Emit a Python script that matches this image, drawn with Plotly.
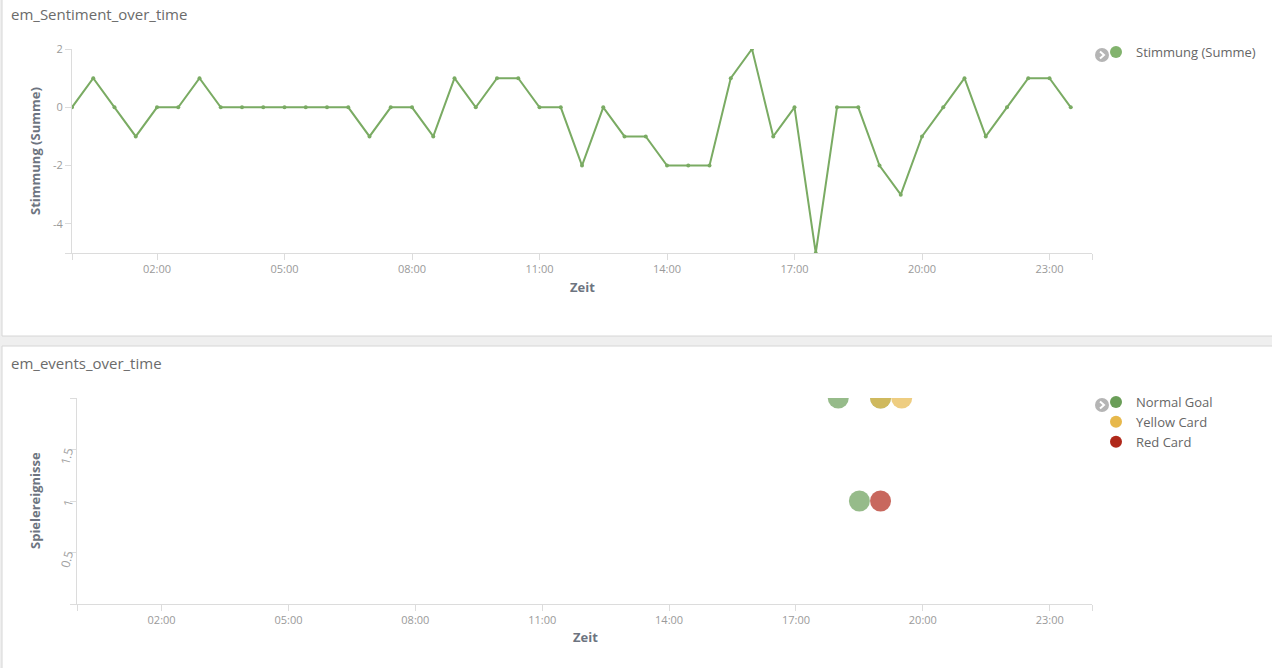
import pandas as pd
import plotly.graph_objects as go

W, H = 1272, 668
DAY = "2016-06-10"

# ---------------- data ----------------
slot_labels = [f"{h:02d}:{m:02d}" for h in range(24) for m in (0, 30)]
sentiment = [0, 1, 0, -1, 0, 0, 1, 0, 0, 0, 0, 0, 0, 0, -1, 0,
             0, -1, 1, 0, 1, 1, 0, 0, -2, 0, -1, -1, -2, -2, -2, 1,
             2, -1, 0, -5, 0, 0, -2, -3, -1, 0, 1, -1, 0, 1, 1, 0]

goal_times = ["18:00", "18:30", "19:00"]
goal_vals = [2, 1, 2]
yellow_times = ["19:00", "19:30"]
yellow_vals = [2, 2]
red_times = ["19:00"]
red_vals = [1]

x_tick_labels = ["02:00", "05:00", "08:00", "11:00", "14:00", "17:00", "20:00", "23:00"]
y1_ticks = [2, 0, -2, -4]
y2_ticks = [0.5, 1, 1.5]
y2_tick_text = ["0.5", "1", "1.5"]


def ts(hm):
    return pd.Timestamp(f"{DAY} {hm}")


def px_x(v):
    return v / W


def px_y(v):
    # the page shows the figure in the band 8..668 of the window
    return 1 - (v - 8) / 660


GREEN_LINE = "#7aab63"
AX = "#dcdcdc"
TICKC = "#9a9a9a"
TITLEC = "#6d7480"
FONT = "Open Sans"

fig = go.Figure()

fig.add_trace(go.Scatter(
    x=[ts(t) for t in slot_labels], y=sentiment, mode="lines+markers",
    name="Stimmung (Summe)", line=dict(color=GREEN_LINE, width=2),
    marker=dict(size=4, color=GREEN_LINE), xaxis="x", yaxis="y",
    showlegend=False))
# legend entry (dot only) for the line series
fig.add_trace(go.Scatter(
    x=[None], y=[None], mode="markers", name="Stimmung (Summe)",
    marker=dict(size=10, color="#82b36d"), xaxis="x", yaxis="y", legend="legend"))

series = [
    ("Normal Goal", goal_times, goal_vals, "#6a9e58"),
    ("Yellow Card", yellow_times, yellow_vals, "#e7b84b"),
    ("Red Card", red_times, red_vals, "#b0281a"),
]
for name, times, vals, col in series:
    fig.add_trace(go.Scatter(
        x=[ts(t) for t in times], y=vals, mode="markers", name=name,
        marker=dict(color=col, size=21, opacity=0.7, line=dict(width=0)),
        xaxis="x2", yaxis="y2", showlegend=False, legendgroup=name))
for name, times, vals, col in series:
    fig.add_trace(go.Scatter(
        x=[None], y=[None], mode="markers", name=name,
        marker=dict(color=col, size=10), xaxis="x2", yaxis="y2",
        legend="legend2", legendgroup=name))

day_end = pd.Timestamp(f"{DAY} 00:00") + pd.Timedelta(hours=24)
x_vals = [ts("00:00")] + [ts(t) for t in x_tick_labels] + [day_end]
x_text = [""] + x_tick_labels + [""]
xr = [ts("00:00"), day_end]

common_x = dict(range=xr, tickvals=x_vals, ticktext=x_text, showgrid=False,
                zeroline=False, showline=True, linecolor=AX, linewidth=1,
                ticks="outside", ticklen=6, tickcolor=AX,
                tickfont=dict(family=FONT, size=11, color=TICKC))
common_y = dict(showgrid=False, zeroline=False, showline=True, linecolor=AX,
                linewidth=1, ticks="outside", ticklen=6, tickcolor=AX)

leg_common = dict(xanchor="left", yanchor="top", bgcolor="rgba(0,0,0,0)",
                  font=dict(family=FONT, size=13, color="#666"),
                  itemsizing="constant", tracegroupgap=0)

fig.update_layout(
    width=W, height=H, margin=dict(l=0, r=0, t=0, b=0),
    paper_bgcolor="#efefef", plot_bgcolor="rgba(0,0,0,0)",
    font=dict(family=FONT, color="#666"),
    xaxis=dict(domain=[px_x(72), px_x(1092)], anchor="y", **common_x),
    yaxis=dict(domain=[px_y(253), px_y(49)], anchor="x", range=[-5, 2],
               tickvals=y1_ticks + [-5], ticktext=[str(v) for v in y1_ticks] + [""],
               tickfont=dict(family=FONT, size=11, color=TICKC), **common_y),
    xaxis2=dict(domain=[px_x(77), px_x(1092)], anchor="y2", **common_x),
    yaxis2=dict(domain=[px_y(604), px_y(398)], anchor="x2", range=[0, 2],
                tickvals=[0] + y2_ticks + [2], ticktext=[""] + y2_tick_text + [""],
                tickangle=-75, tickfont=dict(family=FONT, size=12, color="#a0a0a0"),
                **common_y),
    legend=dict(x=px_x(1096), y=px_y(37), **leg_common),
    legend2=dict(x=px_x(1096), y=px_y(387), **leg_common),
    showlegend=True,
)

# panels
shapes = [
    dict(type="rect", xref="paper", yref="paper", x0=px_x(2), x1=px_x(1290),
         y0=px_y(336), y1=1.05, fillcolor="white", line=dict(color="#d6d6d6", width=1),
         layer="below"),
    dict(type="rect", xref="paper", yref="paper", x0=px_x(2), x1=px_x(1290),
         y0=-0.05, y1=px_y(346), fillcolor="white", line=dict(color="#d6d6d6", width=1),
         layer="below"),
]
for cy in (55, 405):
    cx = 1102
    shapes.append(dict(type="circle", xref="paper", yref="paper",
                       x0=px_x(cx - 7), x1=px_x(cx + 7), y0=px_y(cy + 7), y1=px_y(cy - 7),
                       fillcolor="#b5b5b5", line=dict(width=0), layer="above"))
    shapes.append(dict(type="path", xref="paper", yref="paper",
                       path=f"M {px_x(cx - 2)} {px_y(cy - 3.5)} L {px_x(cx + 2)} {px_y(cy)} L {px_x(cx - 2)} {px_y(cy + 3.5)}",
                       line=dict(color="white", width=2)))
fig.update_layout(shapes=shapes)

ann = [
    dict(text="em_Sentiment_over_time", x=px_x(9), y=px_y(14), xanchor="left", yanchor="middle",
         font=dict(family=FONT, size=15, color="#6b6b6b")),
    dict(text="em_events_over_time", x=px_x(9), y=px_y(363), xanchor="left", yanchor="middle",
         font=dict(family=FONT, size=15, color="#6b6b6b")),
    dict(text="<b>Stimmung (Summe)</b>", x=px_x(35), y=px_y(151), textangle=-90,
         xanchor="center", yanchor="middle", font=dict(family=FONT, size=13, color=TITLEC)),
    dict(text="<b>Zeit</b>", x=px_x(582), y=px_y(287), xanchor="center", yanchor="middle",
         font=dict(family=FONT, size=13, color=TITLEC)),
    dict(text="<b>Spielereignisse</b>", x=px_x(35), y=px_y(501), textangle=-90,
         xanchor="center", yanchor="middle", font=dict(family=FONT, size=13, color=TITLEC)),
    dict(text="<b>Zeit</b>", x=px_x(585), y=px_y(637), xanchor="center", yanchor="middle",
         font=dict(family=FONT, size=13, color=TITLEC)),
]
for a in ann:
    a.update(xref="paper", yref="paper", showarrow=False)
fig.update_layout(annotations=ann)

fig.write_html("out.html", config={"displayModeBar": False},
               post_script="document.body.style.margin='0';")
